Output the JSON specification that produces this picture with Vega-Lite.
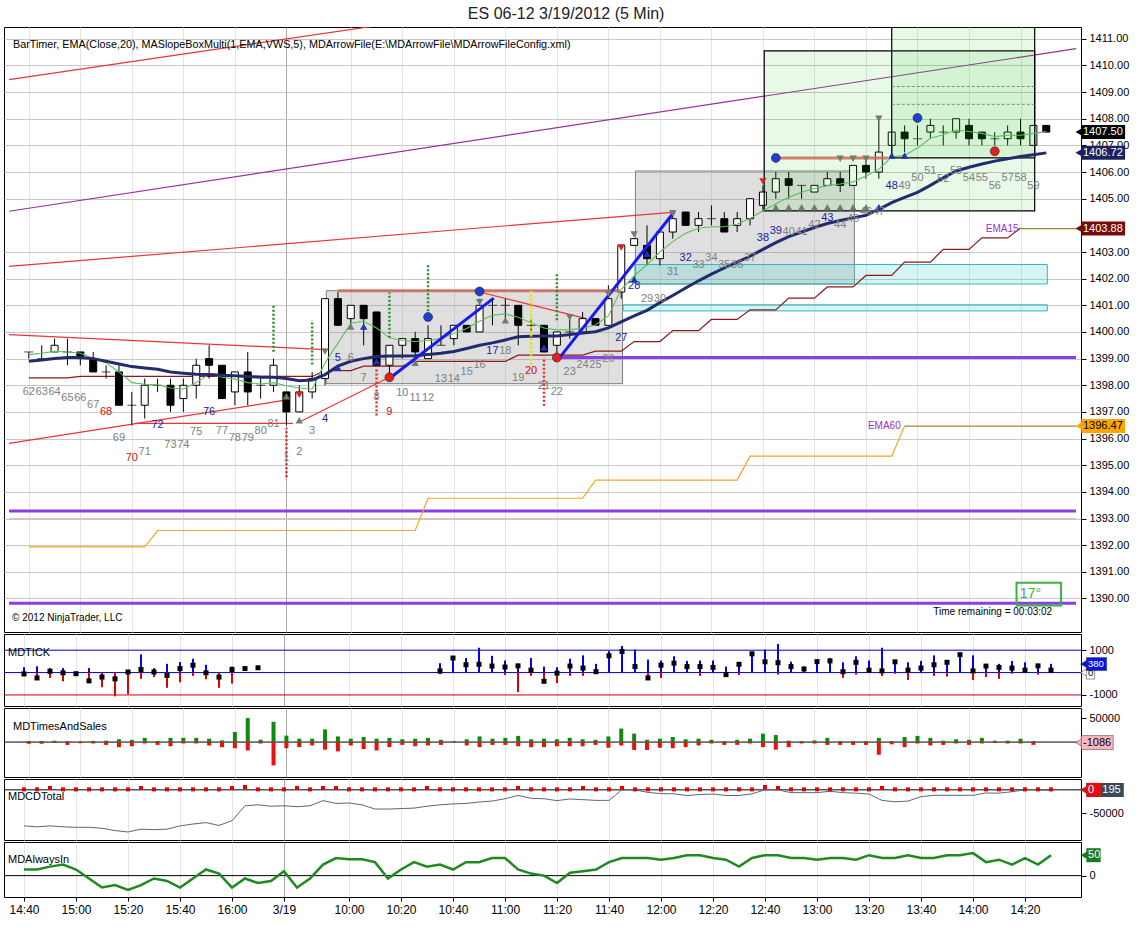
{
"$schema": "https://vega.github.io/schema/vega-lite/v6.json",
"padding": {"left": 3, "top": 5, "right": 0, "bottom": 0},
"background": "white",
"spacing": 0,
"title": {"text": "ES 06-12  3/19/2012 (5 Min)", "fontSize": 16, "fontWeight": "normal", "font": "Liberation Sans", "color": "#222", "anchor": "middle", "offset": 5},
"config": {
  "font": "Liberation Sans",
  "view": {"stroke": "#000", "strokeWidth": 1},
  "axis": {"labelFont": "Liberation Sans", "labelColor": "#000", "tickColor": "#000", "labelFontSize": 11, "domain": false, "labelFlush": false, "labelOverlap": false},
  "text": {"font": "Liberation Sans"}
},
"datasets": {
"bars": [
{"i":0,"n":62,"o":1399.25,"h":1399.25,"l":1399,"c":1399.25,"e20":1399.15,"ma":1398.9,"e15":1398.28,"e60":1391.94,"lp":1397.76,"lk":"n","th":240,"tl":-100,"tc":-60,"tg":2400,"tr":-3500,"cd":-77000,"cs":1000,"ai":15},
{"i":1,"n":63,"o":1399,"h":1399.5,"l":1399,"c":1399,"e20":1399.2,"ma":1398.95,"e15":1398.28,"e60":1391.94,"lp":1397.76,"lk":"n","th":280,"tl":-240,"tc":-240,"tg":2400,"tr":-3500,"cd":-79000,"cs":1000,"ai":15},
{"i":2,"n":64,"o":1399.25,"h":1399.75,"l":1399.25,"c":1399.5,"e20":1399.27,"ma":1399,"e15":1398.28,"e60":1391.94,"lp":1397.76,"lk":"n","th":200,"tl":-240,"tc":60,"tg":2900,"tr":-1200,"cd":-77000,"cs":4000,"ai":22},
{"i":3,"n":65,"o":1399.25,"h":1399.75,"l":1398.75,"c":1399.25,"e20":1399.25,"ma":1399.04,"e15":1398.28,"e60":1391.94,"lp":1397.53,"lk":"n","th":200,"tl":-390,"tc":-10,"tg":1800,"tr":-5900,"cd":-79000,"cs":1000,"ai":27},
{"i":4,"n":66,"o":1399.25,"h":1399.25,"l":1398.75,"c":1399,"e20":1399.2,"ma":1399.04,"e15":1398.33,"e60":1391.94,"lp":1397.53,"lk":"n","th":0,"tl":-50,"tc":-50,"tg":1200,"tr":-2400,"cd":-80000,"cs":1000,"ai":15},
{"i":5,"n":67,"o":1399,"h":1399.25,"l":1398.5,"c":1398.5,"e20":1399,"ma":1399,"e15":1398.33,"e60":1391.94,"lp":1397.27,"lk":"n","th":200,"tl":-370,"tc":-370,"tg":2400,"tr":-2900,"cd":-80000,"cs":1000,"ai":-7},
{"i":6,"n":68,"o":1398.5,"h":1398.75,"l":1398.25,"c":1398.5,"e20":1398.84,"ma":1398.9,"e15":1398.33,"e60":1391.94,"lp":1397,"lk":"r","th":0,"tl":-650,"tc":-200,"tg":2900,"tr":-5900,"cd":-82000,"cs":1000,"ai":-29},
{"i":7,"n":69,"o":1398.5,"h":1398.75,"l":1397.25,"c":1397.25,"e20":1398.5,"ma":1398.8,"e15":1398.33,"e60":1391.94,"lp":1396.01,"lk":"n","th":0,"tl":-1060,"tc":-280,"tg":5900,"tr":-10600,"cd":-87000,"cs":1000,"ai":-23},
{"i":8,"n":70,"o":1397.25,"h":1397.75,"l":1396.5,"c":1397.25,"e20":1398.1,"ma":1398.7,"e15":1398.33,"e60":1391.94,"lp":1395.28,"lk":"r","th":0,"tl":-960,"tc":25,"tg":4700,"tr":-8800,"cd":-90000,"cs":1000,"ai":-35},
{"i":9,"n":71,"o":1397.25,"h":1398.25,"l":1396.75,"c":1398,"e20":1398.04,"ma":1398.65,"e15":1398.33,"e60":1391.94,"lp":1395.5,"lk":"n","th":810,"tl":-280,"tc":140,"tg":8800,"tr":-2900,"cd":-84000,"cs":4000,"ai":-23},
{"i":10,"n":72,"o":1398,"h":1398.25,"l":1397.75,"c":1398,"e20":1398.02,"ma":1398.6,"e15":1398.33,"e60":1392.55,"lp":1396.51,"lk":"b","th":200,"tl":-200,"tc":25,"tg":2400,"tr":-5900,"cd":-85000,"cs":1000,"ai":-7},
{"i":11,"n":73,"o":1398,"h":1398.25,"l":1397,"c":1397.25,"e20":1397.9,"ma":1398.5,"e15":1398.33,"e60":1392.55,"lp":1395.77,"lk":"n","th":390,"tl":-680,"tc":-130,"tg":8800,"tr":-8800,"cd":-84000,"cs":1000,"ai":-13},
{"i":12,"n":74,"o":1397.5,"h":1398.25,"l":1397,"c":1398,"e20":1397.86,"ma":1398.45,"e15":1398.33,"e60":1392.55,"lp":1395.77,"lk":"n","th":470,"tl":-430,"tc":180,"tg":8800,"tr":-2900,"cd":-77000,"cs":1000,"ai":-29},
{"i":13,"n":75,"o":1398,"h":1399,"l":1397.5,"c":1398.75,"e20":1398.1,"ma":1398.41,"e15":1398.33,"e60":1392.55,"lp":1396.26,"lk":"n","th":620,"tl":-150,"tc":330,"tg":8800,"tr":-2900,"cd":-73000,"cs":1000,"ai":-7},
{"i":14,"n":76,"o":1399,"h":1399.5,"l":1398.25,"c":1398.75,"e20":1398.41,"ma":1398.4,"e15":1398.33,"e60":1392.55,"lp":1397,"lk":"b","th":350,"tl":-300,"tc":-10,"tg":7100,"tr":-7100,"cd":-70000,"cs":1000,"ai":15},
{"i":15,"n":77,"o":1398.75,"h":1398.75,"l":1397.5,"c":1397.5,"e20":1398.3,"ma":1398.38,"e15":1398.33,"e60":1392.55,"lp":1396.27,"lk":"n","th":0,"tl":-680,"tc":-200,"tg":3500,"tr":-10600,"cd":-76000,"cs":1000,"ai":5},
{"i":16,"n":78,"o":1397.75,"h":1398.5,"l":1397.25,"c":1398.5,"e20":1398.23,"ma":1398.36,"e15":1398.33,"e60":1392.55,"lp":1396.01,"lk":"n","th":270,"tl":-490,"tc":140,"tg":21200,"tr":-12900,"cd":-66000,"cs":4000,"ai":-29},
{"i":17,"n":79,"o":1398.5,"h":1399.25,"l":1397.25,"c":1397.75,"e20":1398.1,"ma":1398.33,"e15":1398.33,"e60":1392.55,"lp":1396.01,"lk":"n","th":null,"tl":null,"tc":180,"tg":50000,"tr":-17600,"cd":-34000,"cs":6000,"ai":-7},
{"i":18,"n":80,"o":1398,"h":1398.25,"l":1397.5,"c":1398,"e20":1398.05,"ma":1398.3,"e15":1398.33,"e60":1392.55,"lp":1396.27,"lk":"n","th":null,"tl":null,"tc":215,"tg":4700,"tr":-2900,"cd":-32000,"cs":1000,"ai":-18},
{"i":19,"n":81,"o":1398,"h":1399,"l":1397.75,"c":1398.75,"e20":1398.1,"ma":1398.3,"e15":1398.33,"e60":1392.55,"lp":1396.53,"lk":"n","th":null,"tl":null,"tc":null,"tg":42300,"tr":-48800,"cd":-35000,"cs":1000,"ai":-13},
{"i":20,"n":1,"o":1397.75,"h":1397.75,"l":1396.5,"c":1397,"e20":1397.98,"ma":1398.25,"e15":1398.33,"e60":1392.55,"lp":1395.28,"lk":"n","th":null,"tl":null,"tc":null,"tg":13500,"tr":-12900,"cd":-34000,"cs":1000,"ai":11},
{"i":21,"n":2,"o":1397,"h":1398,"l":1397,"c":1397.75,"e20":1397.9,"ma":1398.17,"e15":1398.33,"e60":1392.55,"lp":1395.5,"lk":"n","th":null,"tl":null,"tc":null,"tg":7100,"tr":-10600,"cd":-36000,"cs":4000,"ai":-29},
{"i":22,"n":3,"o":1397.75,"h":1398.5,"l":1397.5,"c":1398.25,"e20":1397.86,"ma":1398.2,"e15":1398.33,"e60":1392.55,"lp":1396.27,"lk":"n","th":null,"tl":null,"tc":null,"tg":7100,"tr":-7100,"cd":-34000,"cs":1000,"ai":-7},
{"i":23,"n":4,"o":1398.25,"h":1401.25,"l":1398,"c":1401.25,"e20":1398.84,"ma":1398.4,"e15":1398.55,"e60":1392.55,"lp":1396.75,"lk":"b","th":null,"tl":null,"tc":null,"tg":26500,"tr":-15900,"cd":-23000,"cs":4000,"ai":27},
{"i":24,"n":5,"o":1401.25,"h":1401.5,"l":1400.25,"c":1400.25,"e20":1399.58,"ma":1398.72,"e15":1398.55,"e60":1392.55,"lp":1399.03,"lk":"b","th":null,"tl":null,"tc":null,"tg":11800,"tr":-19400,"cd":-29000,"cs":4000,"ai":43},
{"i":25,"n":6,"o":1400.5,"h":1401,"l":1400.25,"c":1401,"e20":1400.33,"ma":1398.9,"e15":1398.55,"e60":1392.55,"lp":1399.03,"lk":"n","th":null,"tl":null,"tc":null,"tg":7100,"tr":-7100,"cd":-28000,"cs":1000,"ai":40},
{"i":26,"n":7,"o":1401,"h":1401,"l":1399.5,"c":1400.5,"e20":1400.4,"ma":1399,"e15":1398.72,"e60":1392.55,"lp":1398.29,"lk":"n","th":null,"tl":null,"tc":null,"tg":10600,"tr":-14700,"cd":-32000,"cs":1000,"ai":40},
{"i":27,"n":8,"o":1400.75,"h":1400.75,"l":1398.75,"c":1398.75,"e20":1400.15,"ma":1399.08,"e15":1398.72,"e60":1392.55,"lp":1397.55,"lk":"n","th":null,"tl":null,"tc":null,"tg":7100,"tr":-17600,"cd":-41000,"cs":1000,"ai":33},
{"i":28,"n":9,"o":1398.75,"h":1399.5,"l":1398.25,"c":1399.5,"e20":1399.78,"ma":1399.1,"e15":1398.72,"e60":1392.55,"lp":1397,"lk":"r","th":null,"tl":null,"tc":null,"tg":8800,"tr":-10600,"cd":-41000,"cs":1000,"ai":-7},
{"i":29,"n":10,"o":1399.5,"h":1399.75,"l":1399,"c":1399.75,"e20":1399.68,"ma":1399.1,"e15":1398.72,"e60":1392.55,"lp":1397.71,"lk":"n","th":null,"tl":null,"tc":null,"tg":5900,"tr":-5900,"cd":-40000,"cs":1000,"ai":15},
{"i":30,"n":11,"o":1399.75,"h":1400,"l":1398.75,"c":1399.25,"e20":1399.64,"ma":1399.11,"e15":1398.9,"e60":1392.55,"lp":1397.53,"lk":"n","th":null,"tl":null,"tc":null,"tg":7100,"tr":-8800,"cd":-39000,"cs":1000,"ai":33},
{"i":31,"n":12,"o":1399,"h":1400.25,"l":1399,"c":1399.75,"e20":1399.68,"ma":1399.15,"e15":1398.9,"e60":1393.76,"lp":1397.53,"lk":"n","th":null,"tl":null,"tc":null,"tg":8800,"tr":-7100,"cd":-35000,"cs":4000,"ai":22},
{"i":32,"n":13,"o":1399.5,"h":1400.25,"l":1399.5,"c":1399.5,"e20":1399.75,"ma":1399.2,"e15":1398.9,"e60":1393.76,"lp":1398.25,"lk":"n","th":420,"tl":-80,"tc":75,"tg":4700,"tr":-5900,"cd":-32000,"cs":1000,"ai":27},
{"i":33,"n":14,"o":1399.75,"h":1400.25,"l":1399.5,"c":1400.25,"e20":1399.95,"ma":1399.27,"e15":1398.9,"e60":1393.76,"lp":1398.25,"lk":"n","th":650,"tl":0,"tc":650,"tg":1800,"tr":0,"cd":-30000,"cs":1000,"ai":15},
{"i":34,"n":15,"o":1400.25,"h":1400.25,"l":1400,"c":1400,"e20":1400.13,"ma":1399.38,"e15":1398.9,"e60":1393.76,"lp":1398.5,"lk":"n","th":650,"tl":0,"tc":350,"tg":5900,"tr":-7100,"cd":-29000,"cs":1000,"ai":33},
{"i":35,"n":16,"o":1400,"h":1401.25,"l":1400,"c":1401,"e20":1400.4,"ma":1399.5,"e15":1398.9,"e60":1393.76,"lp":1398.75,"lk":"n","th":1110,"tl":0,"tc":370,"tg":11800,"tr":-10600,"cd":-26000,"cs":1000,"ai":33},
{"i":36,"n":17,"o":1401,"h":1401.25,"l":1400.25,"c":1401,"e20":1400.63,"ma":1399.59,"e15":1398.9,"e60":1393.76,"lp":1399.27,"lk":"b","th":750,"tl":0,"tc":290,"tg":7100,"tr":-5900,"cd":-24000,"cs":1000,"ai":43},
{"i":37,"n":18,"o":1401,"h":1401.25,"l":1400.5,"c":1401,"e20":1400.68,"ma":1399.7,"e15":1398.9,"e60":1393.76,"lp":1399.27,"lk":"n","th":540,"tl":-110,"tc":250,"tg":8800,"tr":-5900,"cd":-19000,"cs":1000,"ai":43},
{"i":38,"n":19,"o":1401,"h":1401,"l":1399.5,"c":1400.25,"e20":1400.55,"ma":1399.82,"e15":1399.13,"e60":1393.76,"lp":1398.29,"lk":"n","th":390,"tl":-870,"tc":300,"tg":12900,"tr":-8800,"cd":-12000,"cs":4000,"ai":15},
{"i":39,"n":20,"o":1400.25,"h":1400.5,"l":1400,"c":1400.25,"e20":1400.35,"ma":1399.84,"e15":1399.13,"e60":1393.76,"lp":1398.54,"lk":"r","th":650,"tl":-150,"tc":110,"tg":5900,"tr":-10600,"cd":-18000,"cs":1000,"ai":5},
{"i":40,"n":21,"o":1400.25,"h":1400.25,"l":1399.25,"c":1399.25,"e20":1400.15,"ma":1399.85,"e15":1399.13,"e60":1393.76,"lp":1397.98,"lk":"n","th":270,"tl":-460,"tc":-390,"tg":7100,"tr":-10600,"cd":-19000,"cs":1000,"ai":0},
{"i":41,"n":22,"o":1399.5,"h":1400,"l":1399,"c":1400,"e20":1400.08,"ma":1399.85,"e15":1399.13,"e60":1393.76,"lp":1397.74,"lk":"n","th":240,"tl":-470,"tc":-25,"tg":5900,"tr":-8800,"cd":-23000,"cs":1000,"ai":-18},
{"i":42,"n":23,"o":1400,"h":1400.5,"l":1399.75,"c":1400,"e20":1400.08,"ma":1399.9,"e15":1399.13,"e60":1393.76,"lp":1398.5,"lk":"n","th":620,"tl":-150,"tc":290,"tg":8800,"tr":-8800,"cd":-19500,"cs":1000,"ai":7},
{"i":43,"n":24,"o":1400,"h":1400.75,"l":1400,"c":1400.5,"e20":1400.15,"ma":1399.96,"e15":1399.13,"e60":1393.76,"lp":1398.75,"lk":"n","th":770,"tl":-150,"tc":200,"tg":5900,"tr":-8800,"cd":-21000,"cs":4000,"ai":11},
{"i":44,"n":25,"o":1400.5,"h":1400.5,"l":1400.25,"c":1400.25,"e20":1400.26,"ma":1400.01,"e15":1399.28,"e60":1394.44,"lp":1398.75,"lk":"n","th":390,"tl":-50,"tc":40,"tg":4700,"tr":-5900,"cd":-22500,"cs":1000,"ai":15},
{"i":45,"n":26,"o":1400.25,"h":1401.75,"l":1400.25,"c":1401.25,"e20":1400.6,"ma":1400.15,"e15":1399.28,"e60":1394.44,"lp":1398.99,"lk":"n","th":960,"tl":0,"tc":750,"tg":11800,"tr":-11800,"cd":-22500,"cs":1000,"ai":33},
{"i":46,"n":27,"o":1401.5,"h":1403.25,"l":1401.25,"c":1403.25,"e20":1401.6,"ma":1400.38,"e15":1399.28,"e60":1394.44,"lp":1399.77,"lk":"b","th":1190,"tl":0,"tc":940,"tg":28200,"tr":-7100,"cd":0,"cs":4000,"ai":43},
{"i":47,"n":28,"o":1403.25,"h":1403.5,"l":1403.25,"c":1403.5,"e20":1402.1,"ma":1400.6,"e15":1399.64,"e60":1394.44,"lp":1401.73,"lk":"b","th":1030,"tl":0,"tc":270,"tg":17600,"tr":-16500,"cd":0,"cs":1000,"ai":43},
{"i":48,"n":29,"o":1403.25,"h":1404,"l":1402.5,"c":1402.75,"e20":1402.53,"ma":1400.81,"e15":1399.64,"e60":1394.44,"lp":1401.24,"lk":"n","th":580,"tl":-300,"tc":-240,"tg":4700,"tr":-16500,"cd":-5500,"cs":1000,"ai":43},
{"i":49,"n":30,"o":1402.75,"h":1403.75,"l":1402.5,"c":1403.75,"e20":1403,"ma":1401.1,"e15":1399.64,"e60":1394.44,"lp":1401.24,"lk":"n","th":540,"tl":-240,"tc":330,"tg":7100,"tr":-11800,"cd":-8000,"cs":1000,"ai":39},
{"i":50,"n":31,"o":1403.75,"h":1404.5,"l":1403.5,"c":1404.25,"e20":1403.39,"ma":1401.37,"e15":1400.05,"e60":1394.44,"lp":1402.26,"lk":"n","th":730,"tl":0,"tc":420,"tg":10600,"tr":-12900,"cd":-8500,"cs":1000,"ai":43},
{"i":51,"n":32,"o":1404.5,"h":1404.5,"l":1404,"c":1404,"e20":1403.7,"ma":1401.65,"e15":1400.05,"e60":1394.44,"lp":1402.78,"lk":"b","th":520,"tl":0,"tc":270,"tg":5900,"tr":-10600,"cd":-12000,"cs":1000,"ai":50},
{"i":52,"n":33,"o":1404,"h":1404.5,"l":1403.75,"c":1404.25,"e20":1403.89,"ma":1401.92,"e15":1400.05,"e60":1394.44,"lp":1402.51,"lk":"n","th":540,"tl":-150,"tc":270,"tg":7100,"tr":-7100,"cd":-10000,"cs":1000,"ai":50},
{"i":53,"n":34,"o":1404.25,"h":1404.75,"l":1404,"c":1404.25,"e20":1403.95,"ma":1402.17,"e15":1400.47,"e60":1394.44,"lp":1402.78,"lk":"n","th":540,"tl":0,"tc":230,"tg":4700,"tr":-2900,"cd":-9000,"cs":1000,"ai":43},
{"i":54,"n":35,"o":1404.25,"h":1404.5,"l":1403.75,"c":1403.75,"e20":1403.95,"ma":1402.4,"e15":1400.47,"e60":1394.44,"lp":1402.51,"lk":"n","th":270,"tl":-180,"tc":-90,"tg":1800,"tr":-5900,"cd":-12000,"cs":1000,"ai":39},
{"i":55,"n":36,"o":1404,"h":1404.5,"l":1403.75,"c":1404.25,"e20":1404.05,"ma":1402.62,"e15":1400.47,"e60":1394.44,"lp":1402.51,"lk":"n","th":460,"tl":-110,"tc":370,"tg":4700,"tr":-5900,"cd":-12000,"cs":1000,"ai":22},
{"i":56,"n":37,"o":1404.25,"h":1405,"l":1404,"c":1405,"e20":1404.26,"ma":1402.84,"e15":1400.83,"e60":1395.34,"lp":1402.78,"lk":"n","th":900,"tl":0,"tc":840,"tg":7100,"tr":-2900,"cd":-8500,"cs":1000,"ai":43},
{"i":57,"n":38,"o":1404.75,"h":1405.5,"l":1404.5,"c":1405.25,"e20":1404.55,"ma":1403.1,"e15":1400.83,"e60":1395.34,"lp":1403.52,"lk":"b","th":1030,"tl":0,"tc":480,"tg":17600,"tr":-10600,"cd":0,"cs":6000,"ai":50},
{"i":58,"n":39,"o":1405.25,"h":1406,"l":1405,"c":1405.75,"e20":1404.81,"ma":1403.35,"e15":1400.83,"e60":1395.34,"lp":1403.79,"lk":"b","th":1280,"tl":-90,"tc":440,"tg":14700,"tr":-15900,"cd":0,"cs":4000,"ai":50},
{"i":59,"n":40,"o":1405.75,"h":1406,"l":1405,"c":1405.5,"e20":1405.05,"ma":1403.58,"e15":1401.27,"e60":1395.34,"lp":1403.76,"lk":"n","th":490,"tl":0,"tc":270,"tg":2900,"tr":-10600,"cd":-6000,"cs":1000,"ai":43},
{"i":60,"n":41,"o":1405.5,"h":1405.5,"l":1405,"c":1405.5,"e20":1405.24,"ma":1403.75,"e15":1401.27,"e60":1395.34,"lp":1403.76,"lk":"n","th":270,"tl":0,"tc":160,"tg":1800,"tr":-2900,"cd":-6000,"cs":1000,"ai":43},
{"i":61,"n":42,"o":1405.25,"h":1405.5,"l":1405.25,"c":1405.5,"e20":1405.38,"ma":1403.92,"e15":1401.27,"e60":1395.34,"lp":1404.01,"lk":"n","th":540,"tl":0,"tc":490,"tg":3500,"tr":-2900,"cd":-6000,"cs":1000,"ai":39},
{"i":62,"n":43,"o":1405.5,"h":1406,"l":1405.5,"c":1405.75,"e20":1405.49,"ma":1404.07,"e15":1401.69,"e60":1395.34,"lp":1404.28,"lk":"b","th":650,"tl":0,"tc":520,"tg":8800,"tr":-5900,"cd":-3000,"cs":1000,"ai":43},
{"i":63,"n":44,"o":1405.75,"h":1406,"l":1405.25,"c":1405.5,"e20":1405.55,"ma":1404.18,"e15":1401.69,"e60":1395.34,"lp":1404.01,"lk":"n","th":460,"tl":-240,"tc":40,"tg":1800,"tr":-5900,"cd":-6000,"cs":1000,"ai":43},
{"i":64,"n":45,"o":1405.5,"h":1406.25,"l":1405.5,"c":1406.25,"e20":1405.63,"ma":1404.28,"e15":1401.69,"e60":1395.34,"lp":1404.25,"lk":"n","th":730,"tl":-90,"tc":460,"tg":1800,"tr":-5900,"cd":-7000,"cs":1000,"ai":39},
{"i":65,"n":46,"o":1406.25,"h":1406.5,"l":1405.75,"c":1406,"e20":1405.85,"ma":1404.38,"e15":1402.12,"e60":1395.34,"lp":1404.5,"lk":"n","th":540,"tl":0,"tc":110,"tg":1800,"tr":-5900,"cd":-9000,"cs":1000,"ai":50},
{"i":66,"n":47,"o":1406,"h":1408,"l":1405.75,"c":1406.75,"e20":1406.1,"ma":1404.6,"e15":1402.12,"e60":1395.34,"lp":1404.5,"lk":"n","th":1110,"tl":-150,"tc":75,"tg":8800,"tr":-26500,"cd":-22500,"cs":4000,"ai":43},
{"i":67,"n":48,"o":1407,"h":1407.5,"l":1406.5,"c":1407.5,"e20":1406.57,"ma":1404.85,"e15":1402.12,"e60":1395.34,"lp":1405.49,"lk":"b","th":540,"tl":-50,"tc":480,"tg":1800,"tr":-4700,"cd":-25600,"cs":1000,"ai":43},
{"i":68,"n":49,"o":1407.5,"h":1407.75,"l":1406.75,"c":1407.25,"e20":1406.62,"ma":1405.05,"e15":1402.62,"e60":1396.47,"lp":1405.49,"lk":"n","th":460,"tl":-330,"tc":110,"tg":10600,"tr":-10600,"cd":-24000,"cs":1000,"ai":50},
{"i":69,"n":50,"o":1407.25,"h":1407.75,"l":1407,"c":1407.25,"e20":1406.9,"ma":1405.24,"e15":1402.62,"e60":null,"lp":1405.76,"lk":"n","th":520,"tl":0,"tc":200,"tg":12900,"tr":-2900,"cd":-14600,"cs":1000,"ai":43},
{"i":70,"n":51,"o":1407.5,"h":1408,"l":1407.25,"c":1407.75,"e20":1407.27,"ma":1405.5,"e15":1402.62,"e60":null,"lp":1406.04,"lk":"n","th":770,"tl":-150,"tc":350,"tg":8800,"tr":-7100,"cd":-11600,"cs":1000,"ai":43},
{"i":71,"n":52,"o":1407.5,"h":1407.75,"l":1407,"c":1407.5,"e20":1407.4,"ma":1405.78,"e15":1403.1,"e60":null,"lp":1405.73,"lk":"n","th":520,"tl":-180,"tc":460,"tg":2900,"tr":-5900,"cd":-11600,"cs":1000,"ai":50},
{"i":72,"n":53,"o":1407.5,"h":1408,"l":1407.25,"c":1408,"e20":1407.58,"ma":1406.04,"e15":1403.1,"e60":null,"lp":1406.04,"lk":"n","th":860,"tl":0,"tc":800,"tg":5900,"tr":-2900,"cd":-11600,"cs":1000,"ai":50},
{"i":73,"n":54,"o":1407.75,"h":1408,"l":1407,"c":1407.25,"e20":1407.52,"ma":1406.18,"e15":1403.1,"e60":null,"lp":1405.76,"lk":"n","th":770,"tl":-330,"tc":75,"tg":4700,"tr":-5900,"cd":-11600,"cs":1000,"ai":55},
{"i":74,"n":55,"o":1407.5,"h":1407.5,"l":1407,"c":1407.25,"e20":1407.45,"ma":1406.3,"e15":1403.53,"e60":null,"lp":1405.76,"lk":"n","th":330,"tl":-200,"tc":290,"tg":8800,"tr":-2900,"cd":-6700,"cs":1000,"ai":33},
{"i":75,"n":56,"o":1407.25,"h":1407.5,"l":1407,"c":1407.25,"e20":1407.33,"ma":1406.41,"e15":1403.53,"e60":null,"lp":1405.49,"lk":"n","th":390,"tl":-280,"tc":230,"tg":2900,"tr":-1800,"cd":-7000,"cs":1000,"ai":39},
{"i":76,"n":57,"o":1407.25,"h":1407.75,"l":1407,"c":1407.5,"e20":1407.38,"ma":1406.5,"e15":1403.53,"e60":null,"lp":1405.76,"lk":"n","th":520,"tl":-50,"tc":200,"tg":2900,"tr":-2900,"cd":-4000,"cs":1000,"ai":27},
{"i":77,"n":58,"o":1407.5,"h":1408,"l":1407,"c":1407.25,"e20":1407.38,"ma":1406.58,"e15":1403.9,"e60":null,"lp":1405.76,"lk":"n","th":460,"tl":0,"tc":110,"tg":7100,"tr":-2900,"cd":0,"cs":1000,"ai":43},
{"i":78,"n":59,"o":1407,"h":1407.75,"l":1407,"c":1407.75,"e20":1407.45,"ma":1406.65,"e15":null,"e60":null,"lp":1405.49,"lk":"n","th":350,"tl":-90,"tc":300,"tg":1800,"tr":-5900,"cd":0,"cs":1000,"ai":27},
{"i":79,"n":60,"o":1407.75,"h":1407.75,"l":1407.5,"c":1407.5,"e20":1407.52,"ma":1406.72,"e15":null,"e60":null,"lp":null,"lk":"n","th":390,"tl":0,"tc":110,"tg":0,"tr":0,"cd":-1000,"cs":1000,"ai":50}
],
"hlines": [
{"k":"tan","p":1393.0,"a":-1.538,"b":81.308},
{"k":"purple","p":1393.28,"a":-1.538,"b":81.308},
{"k":"purple","p":1389.82,"a":-1.538,"b":81.308},
{"k":"purple","p":1399.04,"a":41.0,"b":81.308},
{"k":"olive","p":1403.88,"a":77.0,"b":81.308},
{"k":"olive","p":1396.47,"a":68.0,"b":81.308}
],
"plines": [
{"id":"r1","k":"red","i":-1.54,"p":1409.47},{"id":"r1","k":"red","i":40,"p":1412.41},
{"id":"r2","k":"red","i":-1.54,"p":1402.46},{"id":"r2","k":"red","i":50.2,"p":1404.5},
{"id":"r3","k":"red","i":-1.54,"p":1399.9},{"id":"r3","k":"red","i":23.0,"p":1399.34},
{"id":"r4","k":"red","i":-1.54,"p":1395.82},{"id":"r4","k":"red","i":19.8,"p":1397.43},
{"id":"r5","k":"red","i":8.2,"p":1396.57},{"id":"r5","k":"red","i":20.5,"p":1396.57},
{"id":"r6","k":"red","i":21.1,"p":1396.64},{"id":"r6","k":"red","i":28.0,"p":1398.3},
{"id":"r7","k":"red","i":35.0,"p":1401.5},{"id":"r7","k":"red","i":43.3,"p":1400.5},
{"id":"pd","k":"pdiag","i":-1.54,"p":1404.53},{"id":"pd","k":"pdiag","i":81.31,"p":1410.63},
{"id":"b1","k":"blue","i":28.1,"p":1398.29},{"id":"b1","k":"blue","i":36.1,"p":1401.27},
{"id":"b2","k":"blue","i":41.2,"p":1399.03},{"id":"b2","k":"blue","i":50.1,"p":1404.5},
{"id":"s1","k":"salmon","i":24.0,"p":1401.55},{"id":"s1","k":"salmon","i":45.9,"p":1401.55},
{"id":"s2","k":"salmon","i":58.1,"p":1406.53},{"id":"s2","k":"salmon","i":66.7,"p":1406.53},
{"id":"d1","k":"dash","i":67.0,"p":1409.21},{"id":"d1","k":"dash","i":78.1,"p":1409.21},
{"id":"d2","k":"dash","i":67.0,"p":1408.54},{"id":"d2","k":"dash","i":78.1,"p":1408.54}
],
"boxes": [
{"k":"gray","i1":23.1,"i2":46.1,"p1":1398.06,"p2":1401.55},
{"k":"gray","i1":47.1,"i2":64.1,"p1":1401.8,"p2":1406.04},
{"k":"cyan","i1":47.06,"i2":79.08,"p1":1401.8,"p2":1402.53},
{"k":"cyan","i1":46.15,"i2":79.08,"p1":1400.79,"p2":1401.02},
{"k":"green","i1":57.1,"i2":78.1,"p1":1404.54,"p2":1410.55},
{"k":"green","i1":67.0,"i2":78.1,"p1":1406.53,"p2":1411.8},
{"k":"deg","i1":76.69,"i2":80.15,"p1":1389.74,"p2":1390.59}
],
"signals": [
{"k":"gd","i":23,"p":1399.27},{"k":"gd","i":35,"p":1401.12},{"k":"gd","i":42,"p":1400.54},{"k":"gd","i":45,"p":1401.43},{"k":"gd","i":47,"p":1403.66},{"k":"gd","i":50,"p":1404.46},{"k":"gd","i":63,"p":1406.5},{"k":"gd","i":64,"p":1406.5},{"k":"gd","i":65,"p":1406.5},{"k":"gd","i":66,"p":1408.0},
{"k":"gu","i":20,"p":1397.59},{"k":"gu","i":21,"p":1396.69},{"k":"gu","i":25,"p":1400.2},{"k":"gu","i":30,"p":1398.84},{"k":"gu","i":37,"p":1400.44},{"k":"gu","i":58,"p":1404.68},{"k":"gu","i":59,"p":1404.68},{"k":"gu","i":60,"p":1404.68},{"k":"gu","i":61,"p":1404.68},{"k":"gu","i":62,"p":1404.68},{"k":"gu","i":63,"p":1404.68},{"k":"gu","i":64,"p":1404.68},{"k":"gu","i":65,"p":1404.68},
{"k":"bu","i":24,"p":1398.66},{"k":"bu","i":26,"p":1400.2},{"k":"bu","i":27,"p":1398.9},{"k":"bu","i":40,"p":1399.42},{"k":"bu","i":47,"p":1401.98},{"k":"bu","i":48,"p":1402.94},{"k":"bu","i":66,"p":1404.68},{"k":"bu","i":67,"p":1406.62},{"k":"bu","i":68,"p":1406.62},
{"k":"rd","i":21,"p":1397.64},{"k":"rd","i":46,"p":1403.17},{"k":"rd","i":57,"p":1405.65}
],
"balls": [
{"k":"blue","i":31,"p":1400.56},{"k":"blue","i":35,"p":1401.52},{"k":"blue","i":58,"p":1406.53},{"k":"blue","i":69,"p":1408.03},
{"k":"red","i":28,"p":1398.3},{"k":"red","i":41,"p":1399.04},{"k":"red","i":75,"p":1406.78}
],
"stems": [
{"k":"green","i":19,"p1":1399.26,"p2":1401.0},
{"k":"green","i":22,"p1":1398.78,"p2":1400.44},
{"k":"green","i":28,"p1":1399.78,"p2":1401.48},
{"k":"green","i":31,"p1":1400.63,"p2":1402.51},
{"k":"green","i":41,"p1":1400.44,"p2":1402.21},
{"k":"red","i":20,"p1":1394.55,"p2":1396.4},
{"k":"red","i":27,"p1":1396.87,"p2":1398.6},
{"k":"red","i":40,"p1":1397.23,"p2":1399.04},
{"k":"yellow","i":39,"p1":1398.78,"p2":1401.55}
],
"notes": [
{"r":"hdr","i":-1.23,"p":1410.77,"t":"BarTimer, EMA(Close,20), MASlopeBoxMulti(1,EMA,VWS,5), MDArrowFile(E:\\MDArrowFile\\MDArrowFileConfig.xml)"},
{"r":"copy","i":-1.3,"p":1389.26,"t":"© 2012 NinjaTrader, LLC"},
{"r":"time","i":79.46,"p":1389.48,"t":"Time remaining = 00:03:02"},
{"r":"ema","i":76.85,"p":1403.88,"t":"EMA15"},
{"r":"ema","i":67.7,"p":1396.49,"t":"EMA60"},
{"r":"deg","i":76.95,"p":1390.18,"t":"17°"}
],
"panelnames": [
{"g":"tick","i":-1.23,"v":885,"t":"MDTICK"},
{"g":"ts","i":-1.23,"v":32143,"t":"MDTimesAndSales"},
{"g":"cd","i":-1.23,"v":-14286,"t":"MDCDTotal"},
{"g":"ai","i":-1.23,"v":38,"t":"MDAlwaysIn"}
],
"levels": [
{"g":"tick","v":1000,"k":"b"},{"g":"tick","v":0,"k":"b"},{"g":"tick","v":-1000,"k":"r"},
{"g":"ts","v":0,"k":"k"},{"g":"cd","v":0,"k":"k"},{"g":"ai","v":0,"k":"k"}
],
"tags": [
{"g":"price","v":1407.5,"t":"1407.50","k":"last"},
{"g":"price","v":1406.72,"t":"1406.72","k":"ma"},
{"g":"price","v":1403.88,"t":"1403.88","k":"e15"},
{"g":"price","v":1396.47,"t":"1396.47","k":"e60"},
{"g":"tick","v":0,"t":"0","k":"zero"},
{"g":"tick","v":380,"t":"380","k":"tick"},
{"g":"ts","v":-1086,"t":"-1086","k":"ts"},
{"g":"cd","v":-195,"t":"195","k":"cdl"},
{"g":"cd","v":0,"t":"0","k":"cds"},
{"g":"ai","v":50,"t":"50","k":"ai"}
]
},
"vconcat": [
{
"width": 1077, "height": 605,
"resolve": {"scale": {"color": "independent", "fill": "independent", "shape": "independent"}},
"layer": [
{"data": {"name": "bars"}, "mark": {"type": "point", "opacity": 0},
 "encoding": {
  "x": {"field": "i", "type": "quantitative", "title": null, "scale": {"domain": [-1.538, 81.308], "nice": false, "zero": false},
        "axis": {"values": [0,4,8,12,16,20,25,29,33,37,41,45,49,53,57,61,65,69,73,77], "labels": false, "ticks": false, "domain": false, "grid": true, "gridColor": {"condition": {"test": "datum.value === 20", "value": "#a8a8a8"}, "value": "#e4e4e4"}}},
  "y": {"field": "c", "type": "quantitative", "title": null, "scale": {"domain": [1388.93, 1411.255], "nice": false, "zero": false},
        "axis": {"orient": "right", "values": [1390,1391,1392,1393,1394,1395,1396,1397,1398,1399,1400,1401,1402,1403,1405,1406,1407,1408,1409,1410,1411], "tickCount": 24, "format": ".2f", "labelOverlap": false, "labelBound": false, "labelSeparation": 0, "grid": true, "gridColor": "#c8c8c8", "tickSize": 5, "labelPadding": 3}}
 }},
{"data": {"name": "boxes"}, "transform": [{"filter": "datum.k === 'gray'"}],
 "mark": {"type": "rect", "fill": "#8c8c8c", "fillOpacity": 0.28, "stroke": "#808080", "strokeWidth": 1},
 "encoding": {"x": {"field": "i1", "type": "quantitative", "title": null}, "x2": {"field": "i2"}, "y": {"field": "p1", "type": "quantitative", "title": null}, "y2": {"field": "p2"}}},
{"data": {"name": "boxes"}, "transform": [{"filter": "datum.k === 'cyan'"}],
 "mark": {"type": "rect", "fill": "#40d0d0", "fillOpacity": 0.22, "stroke": "#30b8c0", "strokeWidth": 1},
 "encoding": {"x": {"field": "i1", "type": "quantitative", "title": null}, "x2": {"field": "i2"}, "y": {"field": "p1", "type": "quantitative", "title": null}, "y2": {"field": "p2"}}},
{"data": {"name": "hlines"}, "transform": [{"filter": "datum.k === 'tan'"}],
 "mark": {"type": "rule", "color": "#dcc4ac", "strokeWidth": 1},
 "encoding": {"x": {"field": "a", "type": "quantitative", "title": null}, "x2": {"field": "b"}, "y": {"field": "p", "type": "quantitative", "title": null}}},
{"data": {"name": "hlines"}, "transform": [{"filter": "datum.k === 'purple'"}],
 "mark": {"type": "rule", "color": "#8a3ee6", "strokeWidth": 3},
 "encoding": {"x": {"field": "a", "type": "quantitative", "title": null}, "x2": {"field": "b"}, "y": {"field": "p", "type": "quantitative", "title": null}}},
{"data": {"name": "plines"}, "transform": [{"filter": "datum.k === 'red'"}],
 "mark": {"type": "line", "color": "#ee3333", "strokeWidth": 1.2, "clip": true},
 "encoding": {"x": {"field": "i", "type": "quantitative", "title": null}, "y": {"field": "p", "type": "quantitative", "title": null}, "detail": {"field": "id", "type": "nominal"}}},
{"data": {"name": "plines"}, "transform": [{"filter": "datum.k === 'pdiag'"}],
 "mark": {"type": "line", "color": "#9b2fa0", "strokeWidth": 1.2, "clip": true},
 "encoding": {"x": {"field": "i", "type": "quantitative", "title": null}, "y": {"field": "p", "type": "quantitative", "title": null}, "detail": {"field": "id", "type": "nominal"}}},
{"data": {"name": "bars"}, "transform": [{"filter": "isValid(datum.e60)"}],
 "mark": {"type": "line", "color": "#f5a623", "strokeWidth": 1.2},
 "encoding": {"x": {"field": "i", "type": "quantitative", "title": null}, "y": {"field": "e60", "type": "quantitative", "title": null}}},
{"data": {"name": "bars"}, "transform": [{"filter": "isValid(datum.e15)"}],
 "mark": {"type": "line", "color": "#8b1a1a", "strokeWidth": 1.2},
 "encoding": {"x": {"field": "i", "type": "quantitative", "title": null}, "y": {"field": "e15", "type": "quantitative", "title": null}}},
{"data": {"name": "hlines"}, "transform": [{"filter": "datum.k === 'olive'"}],
 "mark": {"type": "rule", "color": "#a08a2a", "strokeWidth": 1.2},
 "encoding": {"x": {"field": "a", "type": "quantitative", "title": null}, "x2": {"field": "b"}, "y": {"field": "p", "type": "quantitative", "title": null}}},
{"data": {"name": "bars"},
 "mark": {"type": "rule", "color": "#000", "strokeWidth": 1},
 "encoding": {"x": {"field": "i", "type": "quantitative", "title": null}, "y": {"field": "l", "type": "quantitative", "title": null}, "y2": {"field": "h"}}},
{"data": {"name": "bars"}, "transform": [{"filter": "datum.c < datum.o"}],
 "mark": {"type": "bar", "size": 7, "stroke": "#000", "strokeWidth": 1, "fill": "#000"},
 "encoding": {"x": {"field": "i", "type": "quantitative", "title": null}, "y": {"field": "o", "type": "quantitative", "title": null}, "y2": {"field": "c"}}},
{"data": {"name": "bars"}, "transform": [{"filter": "datum.c > datum.o"}],
 "mark": {"type": "bar", "size": 7, "stroke": "#000", "strokeWidth": 1, "fill": "#fff"},
 "encoding": {"x": {"field": "i", "type": "quantitative", "title": null}, "y": {"field": "o", "type": "quantitative", "title": null}, "y2": {"field": "c"}}},
{"data": {"name": "bars"}, "transform": [{"filter": "datum.o === datum.c"}],
 "mark": {"type": "tick", "orient": "horizontal", "size": 9, "thickness": 1, "color": "#000"},
 "encoding": {"x": {"field": "i", "type": "quantitative", "title": null}, "y": {"field": "c", "type": "quantitative", "title": null}}},
{"data": {"name": "boxes"}, "transform": [{"filter": "datum.k === 'green'"}],
 "mark": {"type": "rect", "fill": "#20c020", "fillOpacity": 0.1, "stroke": "#000", "strokeWidth": 1.2, "clip": true},
 "encoding": {"x": {"field": "i1", "type": "quantitative", "title": null}, "x2": {"field": "i2"}, "y": {"field": "p1", "type": "quantitative", "title": null}, "y2": {"field": "p2"}}},
{"data": {"name": "plines"}, "transform": [{"filter": "datum.k === 'dash'"}],
 "mark": {"type": "line", "color": "#888", "strokeWidth": 1, "strokeDash": [3, 2]},
 "encoding": {"x": {"field": "i", "type": "quantitative", "title": null}, "y": {"field": "p", "type": "quantitative", "title": null}, "detail": {"field": "id", "type": "nominal"}}},
{"data": {"name": "bars"},
 "mark": {"type": "line", "color": "#5cbf5c", "strokeWidth": 1.1},
 "encoding": {"x": {"field": "i", "type": "quantitative", "title": null}, "y": {"field": "e20", "type": "quantitative", "title": null}}},
{"data": {"name": "bars"},
 "mark": {"type": "line", "color": "#232a6e", "strokeWidth": 3},
 "encoding": {"x": {"field": "i", "type": "quantitative", "title": null}, "y": {"field": "ma", "type": "quantitative", "title": null}}},
{"data": {"name": "plines"}, "transform": [{"filter": "datum.k === 'salmon'"}],
 "mark": {"type": "line", "color": "#d0695a", "strokeWidth": 3, "opacity": 0.85},
 "encoding": {"x": {"field": "i", "type": "quantitative", "title": null}, "y": {"field": "p", "type": "quantitative", "title": null}, "detail": {"field": "id", "type": "nominal"}}},
{"data": {"name": "plines"}, "transform": [{"filter": "datum.k === 'blue'"}],
 "mark": {"type": "line", "color": "#1a1aee", "strokeWidth": 3},
 "encoding": {"x": {"field": "i", "type": "quantitative", "title": null}, "y": {"field": "p", "type": "quantitative", "title": null}, "detail": {"field": "id", "type": "nominal"}}},
{"data": {"name": "stems"},
 "mark": {"type": "rule", "strokeWidth": 2.5, "strokeDash": [2, 2]},
 "encoding": {"x": {"field": "i", "type": "quantitative", "title": null}, "y": {"field": "p1", "type": "quantitative", "title": null}, "y2": {"field": "p2"},
   "color": {"field": "k", "type": "nominal", "legend": null, "scale": {"domain": ["green", "red", "yellow"], "range": ["#2e8b2e", "#e03030", "#e8e000"]}}}},
{"data": {"name": "signals"},
 "mark": {"type": "point", "filled": true, "size": 55, "opacity": 1},
 "encoding": {"x": {"field": "i", "type": "quantitative", "title": null}, "y": {"field": "p", "type": "quantitative", "title": null},
   "shape": {"field": "k", "type": "nominal", "legend": null, "scale": {"domain": ["gd", "gu", "bu", "rd"], "range": ["triangle-down", "triangle-up", "triangle-up", "triangle-down"]}},
   "color": {"field": "k", "type": "nominal", "legend": null, "scale": {"domain": ["gd", "gu", "bu", "rd"], "range": ["#6e7e6e", "#6e7e6e", "#2233bb", "#dd2222"]}}}},
{"data": {"name": "balls"},
 "mark": {"type": "point", "filled": true, "size": 80, "opacity": 1, "stroke": "#222", "strokeWidth": 0.6},
 "encoding": {"x": {"field": "i", "type": "quantitative", "title": null}, "y": {"field": "p", "type": "quantitative", "title": null},
   "fill": {"field": "k", "type": "nominal", "legend": null, "scale": {"domain": ["blue", "red"], "range": ["#1f3fd0", "#e02020"]}}}},
{"data": {"name": "bars"}, "transform": [{"filter": "isValid(datum.lp)"}],
 "mark": {"type": "text", "fontSize": 11, "baseline": "middle", "align": "center"},
 "encoding": {"x": {"field": "i", "type": "quantitative", "title": null}, "y": {"field": "lp", "type": "quantitative", "title": null}, "text": {"field": "n", "type": "nominal"},
   "color": {"field": "lk", "type": "nominal", "legend": null, "scale": {"domain": ["n", "b", "r"], "range": ["#808080", "#2020a0", "#cc1010"]}}}},
{"data": {"name": "notes"}, "transform": [{"filter": "datum.r === 'hdr'"}],
 "mark": {"type": "text", "align": "left", "baseline": "middle", "color": "#000", "fontSize": 10.8},
 "encoding": {"x": {"field": "i", "type": "quantitative", "title": null}, "y": {"field": "p", "type": "quantitative", "title": null}, "text": {"field": "t", "type": "nominal"}}},
{"data": {"name": "notes"}, "transform": [{"filter": "datum.r === 'copy'"}],
 "mark": {"type": "text", "align": "left", "baseline": "middle", "color": "#000", "fontSize": 10},
 "encoding": {"x": {"field": "i", "type": "quantitative", "title": null}, "y": {"field": "p", "type": "quantitative", "title": null}, "text": {"field": "t", "type": "nominal"}}},
{"data": {"name": "notes"}, "transform": [{"filter": "datum.r === 'time'"}],
 "mark": {"type": "text", "align": "right", "baseline": "middle", "color": "#000", "fontSize": 10},
 "encoding": {"x": {"field": "i", "type": "quantitative", "title": null}, "y": {"field": "p", "type": "quantitative", "title": null}, "text": {"field": "t", "type": "nominal"}}},
{"data": {"name": "notes"}, "transform": [{"filter": "datum.r === 'ema'"}],
 "mark": {"type": "text", "align": "right", "baseline": "middle", "color": "#9a30c8", "fontSize": 10},
 "encoding": {"x": {"field": "i", "type": "quantitative", "title": null}, "y": {"field": "p", "type": "quantitative", "title": null}, "text": {"field": "t", "type": "nominal"}}},
{"data": {"name": "notes"}, "transform": [{"filter": "datum.r === 'deg'"}],
 "mark": {"type": "text", "align": "left", "baseline": "middle", "color": "#3cb043", "fontSize": 14},
 "encoding": {"x": {"field": "i", "type": "quantitative", "title": null}, "y": {"field": "p", "type": "quantitative", "title": null}, "text": {"field": "t", "type": "nominal"}}},
{"data": {"name": "boxes"}, "transform": [{"filter": "datum.k === 'deg'"}],
 "mark": {"type": "rect", "fillOpacity": 0, "fill": "#fff", "stroke": "#3cb043", "strokeWidth": 2},
 "encoding": {"x": {"field": "i1", "type": "quantitative", "title": null}, "x2": {"field": "i2"}, "y": {"field": "p1", "type": "quantitative", "title": null}, "y2": {"field": "p2"}}},
{"data": {"name": "tags"}, "transform": [{"filter": "datum.g === 'price'"}, {"calculate": "81.62", "as": "xt"}],
 "mark": {"type": "point", "shape": "triangle-left", "filled": true, "size": 110, "opacity": 1},
 "encoding": {"x": {"field": "xt", "type": "quantitative", "title": null}, "y": {"field": "v", "type": "quantitative", "title": null},
   "color": {"field": "k", "type": "nominal", "legend": null, "scale": {"domain": ["last","ma","e15","e60"], "range": ["#000000","#1c2260","#7a0a0a","#ffa500"]}}}},
{"data": {"name": "tags"}, "transform": [{"filter": "datum.g === 'price'"}, {"calculate": "81.72", "as": "xs"}, {"calculate": "81.9 + length(datum.t) * 0.46", "as": "xe"}],
 "mark": {"type": "bar", "size": 14},
 "encoding": {"x": {"field": "xs", "type": "quantitative", "title": null}, "x2": {"field": "xe"}, "y": {"field": "v", "type": "quantitative", "title": null},
   "color": {"field": "k", "type": "nominal", "legend": null, "scale": {"domain": ["last","ma","e15","e60"], "range": ["#000000","#1c2260","#7a0a0a","#ffa500"]}}}},
{"data": {"name": "tags"}, "transform": [{"filter": "datum.g === 'price'"}, {"calculate": "81.85", "as": "xl"}],
 "mark": {"type": "text", "align": "left", "baseline": "middle", "fontSize": 11},
 "encoding": {"x": {"field": "xl", "type": "quantitative", "title": null}, "y": {"field": "v", "type": "quantitative", "title": null}, "text": {"field": "t", "type": "nominal"},
   "color": {"condition": {"test": "datum.k === 'e60'", "value": "#000"}, "value": "#fff"}}}
]
},
{
"width": 1077, "height": 72,
"resolve": {"scale": {"color": "independent", "fill": "independent"}},
"layer": [
{"data": {"name": "bars"}, "mark": {"type": "point", "opacity": 0},
 "encoding": {
  "x": {"field": "i", "type": "quantitative", "title": null, "scale": {"domain": [-1.538, 81.308], "nice": false, "zero": false},
        "axis": {"values": [0,4,8,12,16,20,25,29,33,37,41,45,49,53,57,61,65,69,73,77], "labels": false, "ticks": false, "domain": false, "grid": true, "gridColor": {"condition": {"test": "datum.value === 20", "value": "#a8a8a8"}, "value": "#e4e4e4"}}},
  "y": {"field": "tc", "type": "quantitative", "title": null, "scale": {"domain": [-1269, 1500], "nice": false, "zero": false},
        "axis": {"orient": "right", "values": [1000, -1000], "labelExpr": "'' + datum.value", "labelOverlap": false, "grid": false, "tickSize": 5, "labelPadding": 3}}
 }},
{"data": {"name": "levels"}, "transform": [{"filter": "datum.g === 'tick'"}],
 "mark": {"type": "rule", "strokeWidth": 1},
 "encoding": {"y": {"field": "v", "type": "quantitative", "title": null},
   "color": {"field": "k", "type": "nominal", "legend": null, "scale": {"domain": ["b", "r"], "range": ["#0000cc", "#cc0000"]}}}},
{"data": {"name": "bars"}, "transform": [{"filter": "isValid(datum.th) && datum.th > 0"}, {"calculate": "0", "as": "z"}],
 "mark": {"type": "rule", "color": "#0000ff", "strokeWidth": 2},
 "encoding": {"x": {"field": "i", "type": "quantitative", "title": null}, "y": {"field": "z", "type": "quantitative", "title": null}, "y2": {"field": "th"}}},
{"data": {"name": "bars"}, "transform": [{"filter": "isValid(datum.tl) && datum.tl < 0"}, {"calculate": "0", "as": "z"}],
 "mark": {"type": "rule", "color": "#e00000", "strokeWidth": 2},
 "encoding": {"x": {"field": "i", "type": "quantitative", "title": null}, "y": {"field": "z", "type": "quantitative", "title": null}, "y2": {"field": "tl"}}},
{"data": {"name": "bars"}, "transform": [{"filter": "isValid(datum.tc)"}],
 "mark": {"type": "point", "shape": "square", "filled": true, "size": 25, "color": "#000", "opacity": 1},
 "encoding": {"x": {"field": "i", "type": "quantitative", "title": null}, "y": {"field": "tc", "type": "quantitative", "title": null}}},
{"data": {"name": "panelnames"}, "transform": [{"filter": "datum.g === 'tick'"}],
 "mark": {"type": "text", "align": "left", "baseline": "middle", "fontSize": 11, "color": "#000"},
 "encoding": {"x": {"field": "i", "type": "quantitative", "title": null}, "y": {"field": "v", "type": "quantitative", "title": null}, "text": {"field": "t", "type": "nominal"}}},
{"data": {"name": "tags"}, "transform": [{"filter": "datum.g === 'tick'"}, {"calculate": "81.62", "as": "xt"}],
 "mark": {"type": "point", "shape": "triangle-left", "filled": true, "size": 110, "opacity": 1, "stroke": "#333", "strokeWidth": 0.5},
 "encoding": {"x": {"field": "xt", "type": "quantitative", "title": null}, "y": {"field": "v", "type": "quantitative", "title": null},
   "fill": {"field": "k", "type": "nominal", "legend": null, "scale": {"domain": ["zero","tick"], "range": ["#ffffff","#0a14e6"]}}}},
{"data": {"name": "tags"}, "transform": [{"filter": "datum.g === 'tick'"}, {"calculate": "81.72", "as": "xs"}, {"calculate": "81.9 + length(datum.t) * 0.46", "as": "xe"}],
 "mark": {"type": "bar", "size": 13, "stroke": "#333", "strokeWidth": 0.5},
 "encoding": {"x": {"field": "xs", "type": "quantitative", "title": null}, "x2": {"field": "xe"}, "y": {"field": "v", "type": "quantitative", "title": null},
   "fill": {"field": "k", "type": "nominal", "legend": null, "scale": {"domain": ["zero","tick"], "range": ["#ffffff","#0a14e6"]}}}},
{"data": {"name": "tags"}, "transform": [{"filter": "datum.g === 'tick'"}, {"calculate": "81.85", "as": "xl"}],
 "mark": {"type": "text", "align": "left", "baseline": "middle", "fontSize": 9.5},
 "encoding": {"x": {"field": "xl", "type": "quantitative", "title": null}, "y": {"field": "v", "type": "quantitative", "title": null}, "text": {"field": "t", "type": "nominal"},
   "color": {"condition": {"test": "datum.k === 'zero'", "value": "#000"}, "value": "#fff"}}}
]
},
{
"width": 1077, "height": 69,
"layer": [
{"data": {"name": "bars"}, "mark": {"type": "point", "opacity": 0},
 "encoding": {
  "x": {"field": "i", "type": "quantitative", "title": null, "scale": {"domain": [-1.538, 81.308], "nice": false, "zero": false},
        "axis": {"values": [0,4,8,12,16,20,25,29,33,37,41,45,49,53,57,61,65,69,73,77], "labels": false, "ticks": false, "domain": false, "grid": true, "gridColor": {"condition": {"test": "datum.value === 20", "value": "#a8a8a8"}, "value": "#e4e4e4"}}},
  "y": {"field": "tg", "type": "quantitative", "title": null, "scale": {"domain": [-62500, 60714], "nice": false, "zero": false},
        "axis": {"orient": "right", "values": [50000], "labelExpr": "'' + datum.value", "labelOverlap": false, "grid": false, "tickSize": 5, "labelPadding": 3}}
 }},
{"data": {"name": "levels"}, "transform": [{"filter": "datum.g === 'ts'"}],
 "mark": {"type": "rule", "color": "#000", "strokeWidth": 1},
 "encoding": {"y": {"field": "v", "type": "quantitative", "title": null}}},
{"data": {"name": "bars"}, "transform": [{"filter": "datum.tg > 0"}, {"calculate": "0", "as": "z"}],
 "mark": {"type": "bar", "size": 4, "color": "#118811"},
 "encoding": {"x": {"field": "i", "type": "quantitative", "title": null}, "y": {"field": "tg", "type": "quantitative", "title": null}, "y2": {"field": "z"}}},
{"data": {"name": "bars"}, "transform": [{"filter": "datum.tr < 0"}, {"calculate": "0", "as": "z"}],
 "mark": {"type": "bar", "size": 4, "color": "#e81010"},
 "encoding": {"x": {"field": "i", "type": "quantitative", "title": null}, "y": {"field": "tr", "type": "quantitative", "title": null}, "y2": {"field": "z"}}},
{"data": {"name": "panelnames"}, "transform": [{"filter": "datum.g === 'ts'"}],
 "mark": {"type": "text", "align": "left", "baseline": "middle", "fontSize": 11, "color": "#000"},
 "encoding": {"x": {"field": "i", "type": "quantitative", "title": null}, "y": {"field": "v", "type": "quantitative", "title": null}, "text": {"field": "t", "type": "nominal"}}},
{"data": {"name": "tags"}, "transform": [{"filter": "datum.g === 'ts'"}, {"calculate": "81.62", "as": "xt"}],
 "mark": {"type": "point", "shape": "triangle-left", "filled": true, "size": 110, "opacity": 1, "color": "#ffb6c1", "stroke": "#333", "strokeWidth": 0.5},
 "encoding": {"x": {"field": "xt", "type": "quantitative", "title": null}, "y": {"field": "v", "type": "quantitative", "title": null}}},
{"data": {"name": "tags"}, "transform": [{"filter": "datum.g === 'ts'"}, {"calculate": "81.72", "as": "xs"}, {"calculate": "81.9 + length(datum.t) * 0.46", "as": "xe"}],
 "mark": {"type": "bar", "size": 14, "color": "#ffb6c1", "stroke": "#333", "strokeWidth": 0.5},
 "encoding": {"x": {"field": "xs", "type": "quantitative", "title": null}, "x2": {"field": "xe"}, "y": {"field": "v", "type": "quantitative", "title": null}}},
{"data": {"name": "tags"}, "transform": [{"filter": "datum.g === 'ts'"}, {"calculate": "81.85", "as": "xl"}],
 "mark": {"type": "text", "align": "left", "baseline": "middle", "fontSize": 11, "color": "#000"},
 "encoding": {"x": {"field": "xl", "type": "quantitative", "title": null}, "y": {"field": "v", "type": "quantitative", "title": null}, "text": {"field": "t", "type": "nominal"}}}
]
},
{
"width": 1077, "height": 61,
"resolve": {"scale": {"color": "independent"}},
"layer": [
{"data": {"name": "bars"}, "mark": {"type": "point", "opacity": 0},
 "encoding": {
  "x": {"field": "i", "type": "quantitative", "title": null, "scale": {"domain": [-1.538, 81.308], "nice": false, "zero": false},
        "axis": {"values": [0,4,8,12,16,20,25,29,33,37,41,45,49,53,57,61,65,69,73,77], "labels": false, "ticks": false, "domain": false, "grid": true, "gridColor": {"condition": {"test": "datum.value === 20", "value": "#a8a8a8"}, "value": "#e4e4e4"}}},
  "y": {"field": "cd", "type": "quantitative", "title": null, "scale": {"domain": [-96428, 12500], "nice": false, "zero": false},
        "axis": {"orient": "right", "values": [-50000], "labelExpr": "'' + datum.value", "labelOverlap": false, "grid": false, "tickSize": 5, "labelPadding": 3}}
 }},
{"data": {"name": "levels"}, "transform": [{"filter": "datum.g === 'cd'"}],
 "mark": {"type": "rule", "color": "#000", "strokeWidth": 1},
 "encoding": {"y": {"field": "v", "type": "quantitative", "title": null}}},
{"data": {"name": "bars"},
 "mark": {"type": "line", "color": "#5a6a78", "strokeWidth": 1},
 "encoding": {"x": {"field": "i", "type": "quantitative", "title": null}, "y": {"field": "cd", "type": "quantitative", "title": null}}},
{"data": {"name": "bars"},
 "mark": {"type": "point", "shape": "square", "filled": true, "size": 16, "color": "#e00000", "opacity": 1},
 "encoding": {"x": {"field": "i", "type": "quantitative", "title": null}, "y": {"field": "cs", "type": "quantitative", "title": null}}},
{"data": {"name": "panelnames"}, "transform": [{"filter": "datum.g === 'cd'"}],
 "mark": {"type": "text", "align": "left", "baseline": "middle", "fontSize": 11, "color": "#000"},
 "encoding": {"x": {"field": "i", "type": "quantitative", "title": null}, "y": {"field": "v", "type": "quantitative", "title": null}, "text": {"field": "t", "type": "nominal"}}},
{"data": {"name": "tags"}, "transform": [{"filter": "datum.g === 'cd'"}, {"calculate": "81.62", "as": "xt"}],
 "mark": {"type": "point", "shape": "triangle-left", "filled": true, "size": 110, "opacity": 1},
 "encoding": {"x": {"field": "xt", "type": "quantitative", "title": null}, "y": {"field": "v", "type": "quantitative", "title": null},
   "color": {"field": "k", "type": "nominal", "legend": null, "scale": {"domain": ["cdl","cds"], "range": ["#3a4a55","#e01010"]}}}},
{"data": {"name": "tags"}, "transform": [{"filter": "datum.g === 'cd'"}, {"calculate": "81.72", "as": "xs"}, {"calculate": "datum.k === 'cds' ? 82.85 : 84.6", "as": "xe"}],
 "mark": {"type": "bar", "size": 14},
 "encoding": {"x": {"field": "xs", "type": "quantitative", "title": null}, "x2": {"field": "xe"}, "y": {"field": "v", "type": "quantitative", "title": null},
   "color": {"field": "k", "type": "nominal", "legend": null, "scale": {"domain": ["cdl","cds"], "range": ["#3a4a55","#e01010"]}}}},
{"data": {"name": "tags"}, "transform": [{"filter": "datum.g === 'cd'"}, {"calculate": "datum.k === 'cds' ? 81.85 : 82.95", "as": "xl"}],
 "mark": {"type": "text", "align": "left", "baseline": "middle", "fontSize": 11, "color": "#fff"},
 "encoding": {"x": {"field": "xl", "type": "quantitative", "title": null}, "y": {"field": "v", "type": "quantitative", "title": null}, "text": {"field": "t", "type": "nominal"}}}
]
},
{
"width": 1077, "height": 55,
"layer": [
{"data": {"name": "bars"}, "mark": {"type": "point", "opacity": 0},
 "encoding": {
  "x": {"field": "i", "type": "quantitative", "title": null, "scale": {"domain": [-1.538, 81.308], "nice": false, "zero": false},
        "axis": {"values": [0,4,8,12,16,20,25,29,33,37,41,45,49,53,57,61,65,69,73,77],
                 "labelExpr": "['14:40','15:00','15:20','15:40','16:00','3/19','10:00','10:20','10:40','11:00','11:20','11:40','12:00','12:20','12:40','13:00','13:20','13:40','14:00','14:20'][indexof([0,4,8,12,16,20,25,29,33,37,41,45,49,53,57,61,65,69,73,77], datum.value)]",
                 "labelFontSize": 12, "labelOverlap": false, "tickSize": 4, "labelPadding": 3, "domain": false, "grid": true, "gridColor": {"condition": {"test": "datum.value === 20", "value": "#a8a8a8"}, "value": "#e4e4e4"}}},
  "y": {"field": "ai", "type": "quantitative", "title": null, "scale": {"domain": [-40, 70], "nice": false, "zero": false},
        "axis": {"orient": "right", "values": [0], "labelExpr": "'' + datum.value", "labelOverlap": false, "grid": false, "tickSize": 5, "labelPadding": 3}}
 }},
{"data": {"name": "levels"}, "transform": [{"filter": "datum.g === 'ai'"}],
 "mark": {"type": "rule", "color": "#000", "strokeWidth": 1},
 "encoding": {"y": {"field": "v", "type": "quantitative", "title": null}}},
{"data": {"name": "bars"},
 "mark": {"type": "line", "color": "#1f8a1f", "strokeWidth": 2.5},
 "encoding": {"x": {"field": "i", "type": "quantitative", "title": null}, "y": {"field": "ai", "type": "quantitative", "title": null}}},
{"data": {"name": "panelnames"}, "transform": [{"filter": "datum.g === 'ai'"}],
 "mark": {"type": "text", "align": "left", "baseline": "middle", "fontSize": 11, "color": "#000"},
 "encoding": {"x": {"field": "i", "type": "quantitative", "title": null}, "y": {"field": "v", "type": "quantitative", "title": null}, "text": {"field": "t", "type": "nominal"}}},
{"data": {"name": "tags"}, "transform": [{"filter": "datum.g === 'ai'"}, {"calculate": "81.62", "as": "xt"}],
 "mark": {"type": "point", "shape": "triangle-left", "filled": true, "size": 110, "opacity": 1, "color": "#1e7a1e"},
 "encoding": {"x": {"field": "xt", "type": "quantitative", "title": null}, "y": {"field": "v", "type": "quantitative", "title": null}}},
{"data": {"name": "tags"}, "transform": [{"filter": "datum.g === 'ai'"}, {"calculate": "81.72", "as": "xs"}, {"calculate": "81.9 + length(datum.t) * 0.46", "as": "xe"}],
 "mark": {"type": "bar", "size": 14, "color": "#1e7a1e"},
 "encoding": {"x": {"field": "xs", "type": "quantitative", "title": null}, "x2": {"field": "xe"}, "y": {"field": "v", "type": "quantitative", "title": null}}},
{"data": {"name": "tags"}, "transform": [{"filter": "datum.g === 'ai'"}, {"calculate": "81.85", "as": "xl"}],
 "mark": {"type": "text", "align": "left", "baseline": "middle", "fontSize": 11, "color": "#fff"},
 "encoding": {"x": {"field": "xl", "type": "quantitative", "title": null}, "y": {"field": "v", "type": "quantitative", "title": null}, "text": {"field": "t", "type": "nominal"}}}
]
}
]
}
